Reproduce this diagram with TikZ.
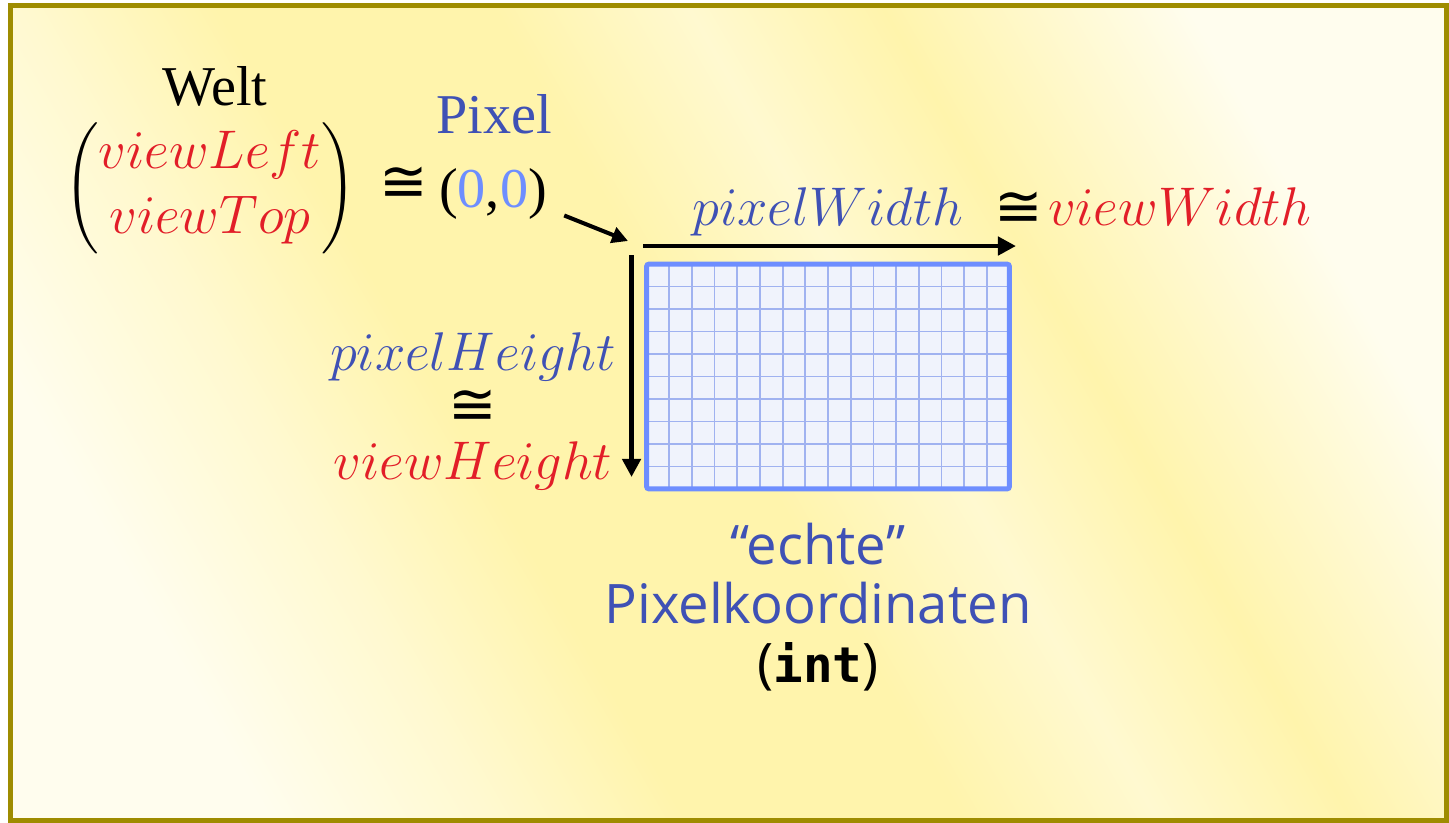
\documentclass[tikz,border=0pt]{standalone}
\usepackage{fix-cm}
\usepackage{amsmath}
\usepackage{fontspec}
\setmainfont{Liberation Serif}
\newfontfamily\sanslight{Open Sans}
\newfontfamily\codebold{DejaVu Sans Mono}
\newfontfamily\relsymbol{DejaVu Sans}
\usetikzlibrary{
  arrows.meta,
  positioning,
  calc
}
\definecolor{framecolor}{RGB}{158, 140, 0}
\definecolor{bgyellow}{RGB}{255, 244, 172}
\definecolor{bgpale}{RGB}{255, 249, 208}
\definecolor{bgwhite}{RGB}{255, 253, 238}
\definecolor{worldred}{RGB}{226, 30, 40}
\definecolor{pixelblue}{RGB}{63, 81, 181}
\definecolor{zeroblue}{RGB}{110, 142, 255}
\definecolor{gridborder}{RGB}{110, 142, 255}
\definecolor{gridlinecolor}{RGB}{160, 178, 240}
\definecolor{gridfill}{RGB}{240, 243, 252}
\pgfdeclarehorizontalshading{bgshading}{100bp}{%
  color(0bp)=(bgwhite); color(25bp)=(bgwhite); color(33bp)=(bgpale);
  color(40bp)=(bgyellow); color(50bp)=(bgyellow); color(57bp)=(bgpale);
  color(64bp)=(bgyellow); color(75bp)=(bgwhite); color(100bp)=(bgwhite)}
\newcommand{\redvar}[1]{\textcolor{worldred}{$#1$}}
\newcommand{\bluevar}[1]{\textcolor{pixelblue}{$#1$}}
\newcommand{\congsign}{{\relsymbol\fontsize{33}{31}\selectfont ≅}}
\tikzset{
outerframe/.style={
  draw=framecolor,
  line width=2.85pt
},
serifnode/.style={
  font=\fontsize{32}{38}\selectfont,
  inner sep=0pt
},
mathnode/.style={
  font=\fontsize{31}{37}\selectfont,
  inner sep=0pt
},
stacknode/.style={
  font=\fontsize{31}{31}\selectfont,
  inner sep=0pt,
  align=center
},
captionnode/.style={
  font=\sanslight\fontsize{31}{33.6}\selectfont,
  text=pixelblue,
  inner sep=0pt,
  align=center
},
pixelgrid/.style={
  fill=gridfill,
  minimum width=7.26cm,
  minimum height=4.5cm,
  inner sep=0pt,
  outer sep=0pt
},
gridline/.style={
  draw=gridlinecolor,
  line width=1pt
},
gridframe/.style={
  draw=gridborder,
  line width=2.85pt,
  rounded corners=1.5pt
},
axisarrow/.style={
  -{Triangle[length=3.6mm,width=3.6mm]},
  line width=2.8pt
},
pointerarrow/.style={
  -{Triangle[length=3.2mm,width=3.2mm]},
  line width=2.3pt
}
}
\begin{document}
\begin{tikzpicture}[x=0.02cm,y=-0.02cm]
  \useasboundingbox (0,0) rectangle (1449,822);
  % background
  \shade[shading=bgshading, shading angle=30] (10.5,5.5) rectangle (1446.5,820.5);
  \draw[outerframe] (10.5,5.5) rectangle (1446.5,820.5);

  % pixel raster
  \node[pixelgrid] (grid) at (828,376.5) {};
  \foreach \i in {1,...,15}
    \draw[gridline] ($(grid.north west)!\i/16!(grid.north east)$)
      -- ($(grid.south west)!\i/16!(grid.south east)$);
  \foreach \j in {1,...,9}
    \draw[gridline] ($(grid.north west)!\j/10!(grid.south west)$)
      -- ($(grid.north east)!\j/10!(grid.south east)$);
  \draw[gridframe] (grid.north west) rectangle (grid.south east);

  % world and pixel origin
  \node[serifnode, anchor=base] (world) at (215,105) {Welt};
  \node[mathnode] (worldcoords) at (210,188)
    {$\left(\begin{array}{@{}c@{}}\mbox{\redvar{viewLeft}}\\ \mbox{\redvar{viewTop}}\end{array}\right)$};
  \node[mathnode] (worldeq) at (404,184) {\congsign};
  \node[serifnode, anchor=base] (zero) at (493,207)
    {(\textcolor{zeroblue}{0},\textcolor{zeroblue}{0})};
  \node[serifnode, anchor=base, text=pixelblue] (pixelhead) at (494,133) {Pixel};

  % width labels
  \node[mathnode, anchor=base] (pixelwidth) at (828,225) {\bluevar{pixelWidth}};
  \node[mathnode] (widtheq) at (1019,209) {\congsign};
  \node[mathnode, anchor=base] (viewwidth) at (1180,225) {\redvar{viewWidth}};

  % height labels
  \node[stacknode] (heightlabel) at (473,411)
    {\bluevar{pixelHeight}\\ \congsign\\ \redvar{viewHeight}};

  % caption
  \node[captionnode] (caption) at (818,607)
    {“echte”\\ Pixelkoordinaten\\
     {\color{black}({\codebold\bfseries\fontsize{28}{33.6}\selectfont int})}};

  % arrows
  \coordinate (widthstart) at ($(grid.north west)+(-3.5,-18)$);
  \coordinate (widthend) at ($(grid.north east)+(6.5,-18)$);
  \coordinate (heightstart) at ($(grid.north west)+(-15,-9)$);
  \coordinate (heightend) at ($(grid.south west)+(-15,-12)$);
  \coordinate (zerotail) at ($(zero.east)+(17,22)$);
  \coordinate (cornertip) at ($(grid.north west)+(-18.5,-23)$);
  \draw[axisarrow] (widthstart) -- (widthend);
  \draw[axisarrow] (heightstart) -- (heightend);
  \draw[pointerarrow] (zerotail) -- (cornertip);
\end{tikzpicture}
\end{document}
